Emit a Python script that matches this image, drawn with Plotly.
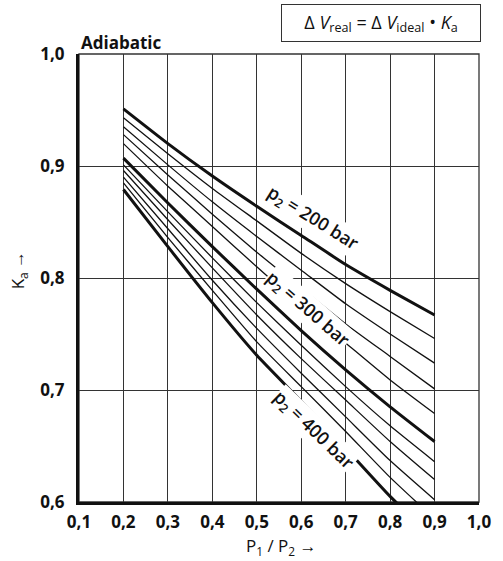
import plotly.graph_objects as go

# ---- data ----
p_ratio = [0.2, 0.3, 0.4, 0.5, 0.6, 0.7, 0.8, 0.9]
p2_bar = [200, 220, 240, 260, 280, 300, 320, 340, 360, 380, 400]
k_200 = [0.951, 0.920, 0.891, 0.864, 0.838, 0.812, 0.789, 0.767]
k_220 = [0.943, 0.911, 0.880, 0.851, 0.822, 0.795, 0.770, 0.746]
k_240 = [0.935, 0.901, 0.868, 0.837, 0.807, 0.777, 0.750, 0.724]
k_260 = [0.928, 0.892, 0.857, 0.823, 0.791, 0.759, 0.730, 0.701]
k_280 = [0.920, 0.882, 0.846, 0.810, 0.775, 0.742, 0.709, 0.679]
k_300 = [0.907, 0.867, 0.828, 0.790, 0.753, 0.718, 0.685, 0.654]
k_320 = [0.901, 0.859, 0.818, 0.778, 0.740, 0.703, 0.668, 0.636]
k_340 = [0.896, 0.852, 0.809, 0.767, 0.728, 0.691, 0.654, 0.620]
k_360 = [0.890, 0.844, 0.798, 0.755, 0.715, 0.676, 0.637, 0.602]
k_380 = [0.885, 0.836, 0.789, 0.743, 0.703, 0.663, 0.622, 0.585]
k_400 = [0.879, 0.828, 0.778, 0.731, 0.690, 0.648, 0.605, 0.567]
series = [k_200, k_220, k_240, k_260, k_280, k_300, k_320, k_340, k_360, k_380, k_400]
labelled = {200: (0.626, 0.853, 32), 300: (0.614, 0.772, 41), 400: (0.628, 0.664, 44)}

x_ticks = [0.1, 0.2, 0.3, 0.4, 0.5, 0.6, 0.7, 0.8, 0.9, 1.0]
y_ticks = [0.6, 0.7, 0.8, 0.9, 1.0]

FONT = "Open Sans"
fig = go.Figure()
for p, ys in zip(p2_bar, series):
    thick = p in labelled
    fig.add_trace(go.Scatter(
        x=p_ratio, y=ys, mode="lines",
        line=dict(color="#111111", width=3 if thick else 1.3, shape="spline", smoothing=0.5),
        hoverinfo="skip", showlegend=False))

anns = []
for p, (lx, ly, ang) in labelled.items():
    anns.append(dict(x=lx, y=ly, xref="x", yref="y", showarrow=False,
                     text=f"p<sub>2</sub> = {p} bar", textangle=ang,
                     font=dict(family=FONT, size=18, color="#111111", weight=600),
                     bgcolor="white", borderpad=0))

anns += [
    dict(x=0.0, y=1.025, xref="paper", yref="paper", xanchor="left", yanchor="middle",
         showarrow=False, text="<b>Adiabatic</b>",
         font=dict(family=FONT, size=17, color="#111111")),
    dict(x=0.756, y=1.069, xref="paper", yref="paper", xanchor="center", yanchor="middle",
         showarrow=False,
         text="Δ <i>V</i><sub>real</sub> = Δ <i>V</i><sub>ideal</sub> • <i>K</i><sub>a</sub>",
         font=dict(family=FONT, size=18, color="#111111"),
         bordercolor="#333333", borderwidth=1, borderpad=1, width=196, height=34,
         bgcolor="white"),
    dict(x=0.507, y=-0.100, xref="paper", yref="paper", xanchor="center", yanchor="middle",
         showarrow=False, text="P<sub>1</sub> / P<sub>2</sub> →",
         font=dict(family=FONT, size=17, color="#111111")),
    dict(x=-0.149, y=0.518, xref="paper", yref="paper", xanchor="center", yanchor="middle",
         showarrow=False, text="K<sub>a</sub> →", textangle=-90,
         font=dict(family=FONT, size=17, color="#111111")),
]

fig.update_layout(
    width=503, height=561,
    margin=dict(l=79, r=14, t=54, b=59),
    paper_bgcolor="white", plot_bgcolor="white",
    separators=",.",
    annotations=anns,
    shapes=[dict(type="rect", xref="paper", yref="paper", x0=0, y0=0, x1=1, y1=1,
                 line=dict(color="#333333", width=1.3), layer="below")],
)
fig.update_xaxes(range=[0.1, 1.0], tickvals=x_ticks, tickformat=".1f",
                 showgrid=True, gridcolor="#333333", gridwidth=1.3,
                 showline=True, linecolor="#111111", linewidth=3,
                 ticks="", ticklabelstandoff=3, zeroline=False,
                 tickfont=dict(family=FONT, size=17, color="#111111", weight="bold"))
fig.update_yaxes(range=[0.6, 1.0], tickvals=y_ticks, tickformat=".1f",
                 showgrid=True, gridcolor="#333333", gridwidth=1.3,
                 showline=True, linecolor="#111111", linewidth=3,
                 ticks="", ticklabelstandoff=8, zeroline=False,
                 tickfont=dict(family=FONT, size=17, color="#111111", weight="bold"))

fig.write_html("out.html", config={"displayModeBar": False},
               post_script="document.body.style.margin='0';document.body.style.overflow='hidden';")
